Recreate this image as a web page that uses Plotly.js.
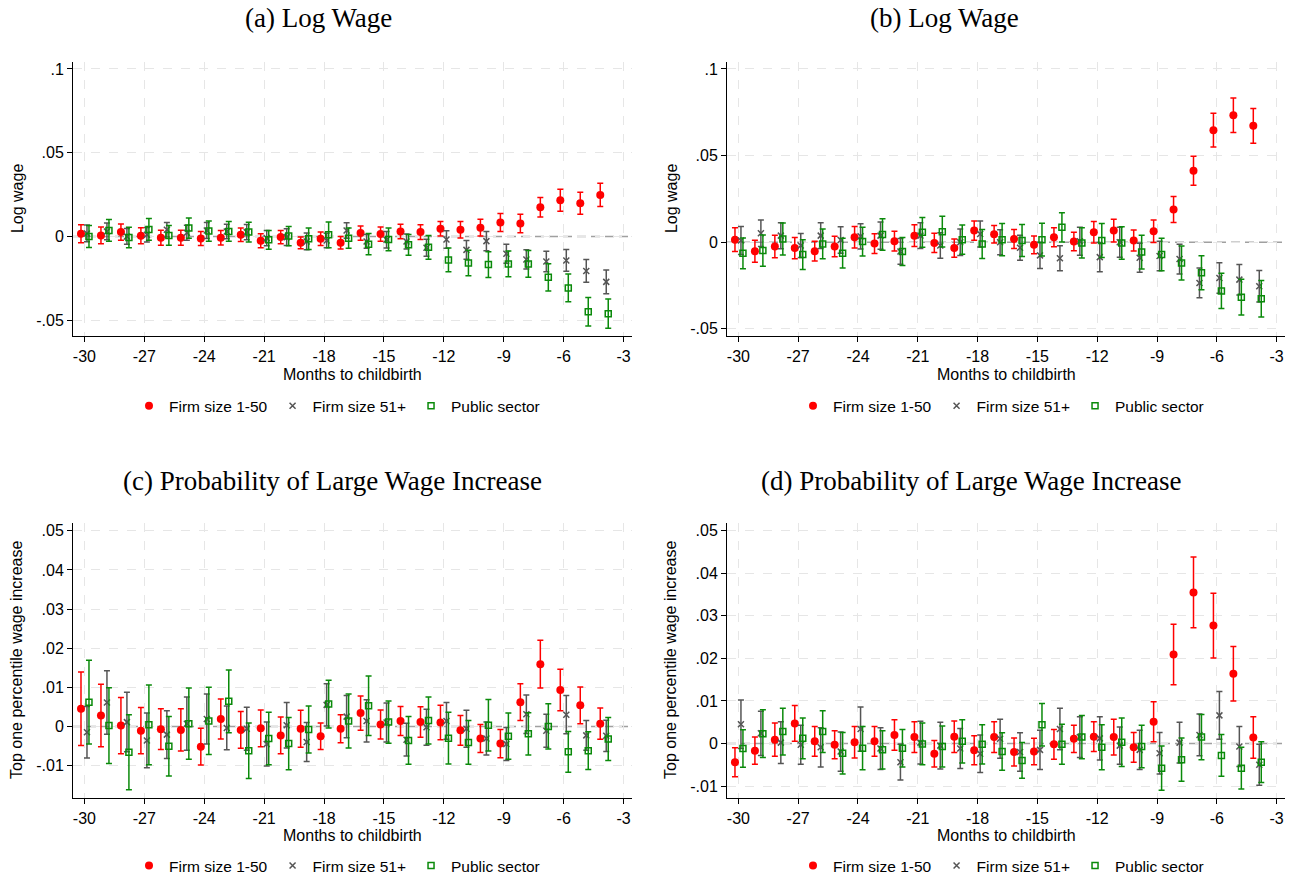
<!DOCTYPE html>
<html>
<head>
<meta charset="utf-8">
<script src="https://cdn.plot.ly/plotly-3.0.1.min.js"></script>
<style>html,body{margin:0;padding:0;background:#fff;}#chart{width:1297px;height:883px;}</style>
</head>
<body>
<div id="chart"></div>
<script>
// ---------- DATA ----------
const months = [-30,-29,-28,-27,-26,-25,-24,-23,-22,-21,-20,-19,-18,-17,-16,-15,-14,-13,-12,-11,-10,-9,-8,-7,-6,-5,-4];
const seriesNames = ["Firm size 1-50", "Firm size 51+", "Public sector"];
const xTickVals = [-30,-27,-24,-21,-18,-15,-12,-9,-6,-3];
const xTickText = ["-30","-27","-24","-21","-18","-15","-12","-9","-6","-3"];
const yTickValsAB = [-0.05, 0, 0.05, 0.1];
const yTickTextAB = ["-.05", "0", ".05", ".1"];
const yTickValsCD = [-0.01, 0, 0.01, 0.02, 0.03, 0.04, 0.05];
const yTickTextCD = ["-.01", "0", ".01", ".02", ".03", ".04", ".05"];
const panelTitles = ["(a) Log Wage", "(b) Log Wage", "(c) Probability of Large Wage Increase", "(d) Probability of Large Wage Increase"];
const yTitles = ["Log wage", "Log wage", "Top one percentile wage increase", "Top one percentile wage increase"];
const xTitle = "Months to childbirth";

// Panel (a)
const aRed   = [0.0016,0.0006,0.0026,0.0004,-0.0008,-0.0008,-0.0012,-0.0008,0.001,-0.0026,-0.0004,-0.0038,-0.0014,-0.0038,0.002,0.0014,0.003,0.0026,0.0046,0.004,0.0052,0.0083,0.0077,0.0174,0.0216,0.0198,0.0248];
const aRedCI = [0.0054,0.005,0.0048,0.0048,0.0045,0.0045,0.0042,0.0043,0.004,0.0042,0.004,0.0035,0.004,0.0037,0.0042,0.0043,0.0043,0.0044,0.0044,0.0049,0.005,0.0054,0.0055,0.0058,0.0066,0.0066,0.0069];
const aGray   = [0.0018,0.003,0,0.001,0.004,0.0022,0.0036,0.003,0.0026,-0.001,-0.0004,-0.003,-0.0024,0.0036,-0.003,-0.002,-0.003,-0.0067,-0.0018,-0.008,-0.0028,-0.0103,-0.0137,-0.0149,-0.0143,-0.0206,-0.0271];
const aGrayCI = [0.005,0.005,0.0047,0.0043,0.0043,0.0045,0.0048,0.0043,0.0045,0.0045,0.005,0.005,0.0043,0.0046,0.0041,0.0049,0.0045,0.0051,0.0052,0.0056,0.0057,0.0057,0.0058,0.0061,0.0065,0.0068,0.0071];
const aGreen   = [0,0.0036,-0.0006,0.0042,0.0006,0.005,0.0032,0.003,0.0026,-0.002,0.0002,-0.0014,0.001,-0.001,-0.0046,-0.0018,-0.005,-0.0065,-0.014,-0.0158,-0.0168,-0.0164,-0.0164,-0.0244,-0.0307,-0.045,-0.0461];
const aGreenCI = [0.0066,0.0065,0.0061,0.0065,0.0059,0.006,0.006,0.0059,0.0059,0.0056,0.0057,0.0064,0.0077,0.0061,0.0063,0.0068,0.0062,0.0071,0.0071,0.0076,0.0077,0.0077,0.008,0.0081,0.0083,0.0085,0.0087];

// Panel (b)
const bRed   = [0.0015,-0.0052,-0.0025,-0.0034,-0.0052,-0.0025,0.0029,-0.0008,0.0006,0.0038,-0.0004,-0.0034,0.0067,0.0046,0.0019,-0.0015,0.0029,0.0004,0.0057,0.0067,0.001,0.0063,0.0189,0.0413,0.0647,0.0733,0.0672];
const bRedCI = [0.0068,0.0064,0.0065,0.0062,0.0057,0.0059,0.0062,0.0057,0.0057,0.0063,0.0056,0.0053,0.0055,0.0051,0.0055,0.0051,0.0055,0.0053,0.0062,0.0065,0.0061,0.0065,0.0075,0.0084,0.0097,0.01,0.01];
const bGray   = [0.001,0.0052,0.0038,-0.0019,0.0038,0.0013,0.0034,0.0038,-0.0053,0.0038,-0.0019,0,0.0048,0,-0.0032,-0.0076,-0.0092,0.0006,-0.0086,0,-0.009,-0.008,-0.0097,-0.0235,-0.0206,-0.0216,-0.0254];
const bGrayCI = [0.0081,0.0076,0.0075,0.0069,0.0074,0.0076,0.0073,0.0079,0.0074,0.0074,0.0074,0.0076,0.0075,0.0072,0.0072,0.0076,0.0072,0.0081,0.0084,0.0086,0.0084,0.0085,0.0086,0.0086,0.0088,0.0088,0.0091];
const bGreen   = [-0.0064,-0.0048,0.0019,-0.0071,-0.001,-0.0063,0.0004,0.0044,-0.0053,0.0057,0.0061,0.0015,-0.001,0.0015,0.001,0.0015,0.0086,-0.0004,0.001,-0.0004,-0.0057,-0.0071,-0.012,-0.0176,-0.0281,-0.0317,-0.0326];
const bGreenCI = [0.0089,0.009,0.0092,0.0086,0.0086,0.0086,0.0083,0.0091,0.0081,0.0086,0.0089,0.0084,0.0084,0.0093,0.0092,0.0094,0.0084,0.0087,0.0098,0.0094,0.0097,0.0094,0.0098,0.0098,0.0102,0.0103,0.0105];

// Panel (c)
const cRed   = [0.0045,0.0028,0.0002,-0.0011,-0.0007,-0.0009,-0.0052,0.0019,-0.0009,-0.0005,-0.0023,-0.0006,-0.0025,-0.0006,0.0034,0.0005,0.0014,0.0011,0.001,-0.001,-0.0031,-0.0044,0.0062,0.0159,0.0093,0.0054,0.0007];
const cRedCI = [0.0094,0.008,0.0072,0.0059,0.0052,0.0054,0.0047,0.0051,0.0047,0.0047,0.0047,0.0047,0.0034,0.0036,0.0044,0.0037,0.0037,0.0039,0.0044,0.0038,0.0036,0.0036,0.0047,0.0061,0.0053,0.0047,0.004];
const cGray   = [-0.0015,0.0061,0.0011,-0.0036,-0.0021,0.0007,0.0019,-0.0004,-0.0006,-0.0045,0.0003,-0.004,0.0055,0.0025,0.0014,0.001,-0.0034,-0.0002,0.0014,-0.0006,-0.0031,-0.0045,0.0031,-0.0011,0.003,-0.0023,-0.0024];
const cGrayCI = [0.0066,0.0081,0.0076,0.007,0.0061,0.0068,0.0064,0.0056,0.0055,0.0056,0.0058,0.005,0.0054,0.0054,0.0054,0.005,0.0042,0.0046,0.0047,0.0047,0.0042,0.0042,0.0049,0.0042,0.0049,0.0038,0.004];
const cGreen   = [0.0062,0.0002,-0.0066,0.0004,-0.0051,0.0007,0.0014,0.0064,-0.0062,-0.0031,-0.0044,-0.0008,0.0057,0.0014,0.0053,0.0011,-0.0036,0.0015,-0.003,-0.0041,0.0003,-0.0025,-0.0019,0,-0.0065,-0.0062,-0.0032];
const cGreenCI = [0.0107,0.0097,0.0096,0.0102,0.0076,0.0091,0.0086,0.008,0.0071,0.0067,0.0067,0.006,0.0061,0.0069,0.0076,0.0054,0.0061,0.006,0.0066,0.0056,0.0066,0.0059,0.0054,0.0058,0.0052,0.0048,0.0055];

// Panel (d)
const dRed   = [-0.0044,-0.0017,0.0009,0.0047,0.0005,-0.0003,0.0003,0.0005,0.002,0.0015,-0.0024,0.0016,-0.0016,0.0015,-0.002,-0.0019,-0.0002,0.0011,0.0016,0.0015,-0.0009,0.0051,0.0209,0.0355,0.0277,0.0164,0.0014];
const dRedCI = [0.0034,0.0032,0.0039,0.0042,0.0035,0.0033,0.0037,0.0035,0.0036,0.0036,0.0031,0.0037,0.0034,0.0036,0.0033,0.0031,0.0035,0.0032,0.0035,0.0042,0.0035,0.0047,0.0071,0.0083,0.0076,0.0064,0.0049];
const dGray   = [0.0045,0.0024,0.0002,-0.0003,-0.0009,-0.0019,0.0034,-0.0012,-0.0044,0.0002,-0.0005,-0.0012,-0.0024,0.0011,-0.002,-0.0015,0.0034,0.0015,0.0012,-0.0005,-0.0015,-0.0023,0.0002,0.002,0.0066,-0.0007,-0.005];
const dGrayCI = [0.0057,0.0052,0.0049,0.0046,0.0046,0.0046,0.0052,0.0049,0.0042,0.005,0.0055,0.0047,0.0044,0.0046,0.0045,0.0046,0.0049,0.0048,0.0051,0.0044,0.0046,0.0049,0.0048,0.0049,0.0056,0.0047,0.0048];
const dGreen   = [-0.0012,0.0023,0.0028,0.0012,0.0028,-0.0023,-0.0011,-0.0015,-0.0011,-0.0001,-0.0007,0.0005,-0.0002,-0.0019,-0.004,0.0044,-0.0002,0.0015,-0.0009,0.0003,-0.0007,-0.0058,-0.0038,0.0015,-0.0028,-0.0058,-0.0044];
const dGreenCI = [0.0044,0.0056,0.0055,0.0048,0.0049,0.0049,0.0051,0.0045,0.0044,0.0049,0.0048,0.0051,0.0046,0.0044,0.0042,0.005,0.0047,0.0051,0.0053,0.0057,0.005,0.0052,0.0051,0.0053,0.0049,0.0049,0.0048];

// ---------- STYLE ----------
const RED = "#ff0000", GRAY = "#555555", GREEN = "#0a8a0a";
const offsets = [-0.17, 0.13, 0.23];
const styles = [
  {color: RED,   ecolor: RED,   symbol: "circle",      size: 8, lw: 0},
  {color: GRAY,  ecolor: GRAY,  symbol: "x-thin-open", size: 6, lw: 1.5},
  {color: GREEN, ecolor: GREEN, symbol: "square-open", size: 6, lw: 1.5}
];
const panels = [
  {vals: [aRed, aGray, aGreen], ci: [aRedCI, aGrayCI, aGreenCI], ax: "", legend: "legend"},
  {vals: [bRed, bGray, bGreen], ci: [bRedCI, bGrayCI, bGreenCI], ax: "2", legend: "legend2"},
  {vals: [cRed, cGray, cGreen], ci: [cRedCI, cGrayCI, cGreenCI], ax: "3", legend: "legend3"},
  {vals: [dRed, dGray, dGreen], ci: [dRedCI, dGrayCI, dGreenCI], ax: "4", legend: "legend4"}
];

const traces = [];
panels.forEach(p => {
  for (let s = 0; s < 3; s++) {
    const st = styles[s];
    traces.push({
      type: "scatter", mode: "markers",
      x: months.map(m => m + offsets[s]),
      y: p.vals[s],
      name: seriesNames[s],
      legend: p.legend,
      xaxis: "x" + p.ax, yaxis: "y" + p.ax,
      marker: {color: st.color, symbol: st.symbol, size: st.size, line: {color: st.color, width: st.lw}},
      error_y: {type: "data", array: p.ci[s], visible: true, color: st.ecolor, thickness: 1.5, width: 3},
      hoverinfo: "x+y"
    });
  }
});

const W = 1297, H = 883;
const px = v => v / W, py = v => 1 - v / H;
const fontSans = {family: "Liberation Sans, Arial, sans-serif", size: 16, color: "#000"};
const fontLegend = {family: "Liberation Sans, Arial, sans-serif", size: 15.5, color: "#000"};
const fontTick = {family: "Liberation Sans, Arial, sans-serif", size: 16, color: "#000"};
const fontSerif = {family: "Liberation Serif, Times New Roman, serif", size: 27, color: "#000"};

function xaxis(domain) {
  return {domain: domain, range: [-30.57, -2.58], tickvals: xTickVals, ticktext: xTickText,
    showline: true, linecolor: "#000", linewidth: 1, ticks: "outside", ticklen: 5, tickcolor: "#000",
    showgrid: true, gridcolor: "#e6e6e6", griddash: "dash", gridwidth: 1, zeroline: false,
    tickfont: fontTick, automargin: false, fixedrange: true};
}
function yaxis(domain, range, tv, tt, anchor) {
  return {domain: domain, range: range, tickvals: tv, ticktext: tt, anchor: anchor,
    showline: true, linecolor: "#000", linewidth: 1, ticks: "outside", ticklen: 5, tickcolor: "#000",
    showgrid: true, gridcolor: "#e6e6e6", griddash: "dash", gridwidth: 1, zeroline: false,
    tickfont: fontTick, automargin: false, fixedrange: true};
}
const colL = [px(73), px(632)], colR = [px(727), px(1285)];
const rowT = [py(338), py(62)], rowB = [py(802), py(525)];

function legendAt(xc, yc) {
  return {orientation: "h", x: px(xc), y: py(yc), xanchor: "center", yanchor: "middle",
    font: fontLegend, bgcolor: "rgba(0,0,0,0)", itemwidth: 30, itemclick: false, itemdoubleclick: false};
}

const annotations = [];
const titlePos = [[318, 18], [944, 18], [332, 483], [971, 483]];
panelTitles.forEach((t, i) => annotations.push({text: t, xref: "paper", yref: "paper",
  x: px(titlePos[i][0]), y: py(titlePos[i][1]), xanchor: "center", yanchor: "middle", showarrow: false, font: fontSerif}));
const yTitlePos = [[17, 200], [671, 200], [17, 663], [671, 663]];
yTitles.forEach((t, i) => annotations.push({text: t, xref: "paper", yref: "paper", textangle: -90,
  x: px(yTitlePos[i][0]), y: py(yTitlePos[i][1]), xanchor: "center", yanchor: "middle", showarrow: false, font: fontSans}));
const xTitlePos = [[352, 376], [1006, 376], [352, 839], [1006, 839]];
xTitlePos.forEach(p => annotations.push({text: xTitle, xref: "paper", yref: "paper",
  x: px(p[0]), y: py(p[1]), xanchor: "center", yanchor: "middle", showarrow: false, font: fontSans}));

const shapes = ["", "2", "3", "4"].map(a => ({type: "line", xref: "x" + a + " domain", yref: "y" + a,
  x0: 0, x1: 1, y0: 0, y1: 0, layer: "below", line: {color: "#a0a0a0", width: 1.5, dash: "9px,5px"}}));

const layout = {
  width: W, height: H, margin: {l: 0, r: 0, t: 0, b: 0},
  paper_bgcolor: "#fff", plot_bgcolor: "#fff",
  font: fontSans, showlegend: true,
  xaxis: xaxis(colL), yaxis: yaxis(rowT, [-0.0597, 0.1043], yTickValsAB, yTickTextAB, "x"),
  xaxis2: xaxis(colR), yaxis2: yaxis(rowT, [-0.0544, 0.1042], yTickValsAB, yTickTextAB, "x2"),
  xaxis3: xaxis(colL), yaxis3: yaxis(rowB, [-0.0184, 0.0521], yTickValsCD, yTickTextCD, "x3"),
  xaxis4: xaxis(colR), yaxis4: yaxis(rowB, [-0.0129, 0.0519], yTickValsCD, yTickTextCD, "x4"),
  legend: legendAt(337, 408), legend2: legendAt(1001, 408),
  legend3: legendAt(337, 870), legend4: legendAt(1001, 870),
  annotations: annotations, shapes: shapes
};
layout.xaxis.anchor = "y"; layout.xaxis2.anchor = "y2"; layout.xaxis3.anchor = "y3"; layout.xaxis4.anchor = "y4";

Plotly.newPlot("chart", traces, layout, {staticPlot: true, displayModeBar: false});
</script>
</body>
</html>
